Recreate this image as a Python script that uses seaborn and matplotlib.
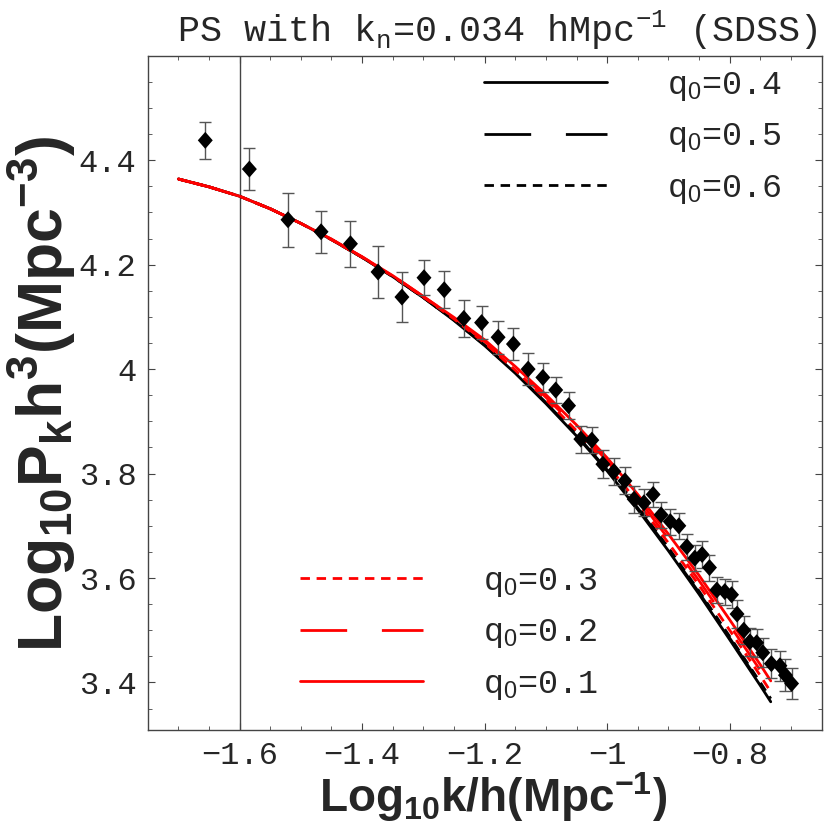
import matplotlib
matplotlib.use("Agg")
import matplotlib.pyplot as plt
from matplotlib.lines import Line2D
import seaborn as sns

# SDSS band powers
k_obs = [-1.656, -1.584, -1.521, -1.467, -1.419, -1.374, -1.335, -1.299, -1.266, -1.234,
         -1.205, -1.178, -1.153, -1.129, -1.105, -1.084, -1.063, -1.043, -1.025, -1.007,
         -0.989, -0.971, -0.956, -0.940, -0.925, -0.912, -0.897, -0.883, -0.870, -0.857,
         -0.845, -0.833, -0.821, -0.808, -0.797, -0.788, -0.777, -0.767, -0.756, -0.746,
         -0.732, -0.718, -0.709, -0.699]
p_obs = [4.438, 4.383, 4.286, 4.263, 4.240, 4.186, 4.138, 4.175, 4.152, 4.097,
         4.089, 4.061, 4.048, 4.000, 3.984, 3.960, 3.930, 3.866, 3.864, 3.818,
         3.804, 3.786, 3.751, 3.744, 3.760, 3.721, 3.708, 3.700, 3.660, 3.638,
         3.645, 3.620, 3.577, 3.574, 3.568, 3.531, 3.500, 3.478, 3.476, 3.457,
         3.436, 3.432, 3.414, 3.398]
p_err = [0.036, 0.041, 0.052, 0.040, 0.044, 0.050, 0.047, 0.034, 0.035, 0.035,
         0.031, 0.032, 0.030, 0.030, 0.028, 0.025, 0.026, 0.026, 0.025, 0.027,
         0.026, 0.026, 0.026, 0.026, 0.024, 0.025, 0.025, 0.025, 0.025, 0.025,
         0.025, 0.025, 0.025, 0.025, 0.026, 0.026, 0.027, 0.027, 0.027, 0.028,
         0.028, 0.029, 0.030, 0.030]

# model spectra for each q0
k_mod = [-1.70, -1.65, -1.60, -1.55, -1.50, -1.45, -1.40, -1.35, -1.30, -1.25, -1.20,
         -1.15, -1.10, -1.05, -1.00, -0.95, -0.90, -0.85, -0.80, -0.75, -0.733]
p_q04 = [4.364, 4.349, 4.331, 4.307, 4.279, 4.248, 4.214, 4.177, 4.137, 4.093, 4.045,
         3.992, 3.934, 3.872, 3.805, 3.731, 3.652, 3.569, 3.482, 3.394, 3.363]
p_q05 = [4.364, 4.349, 4.331, 4.307, 4.279, 4.248, 4.214, 4.177, 4.137, 4.093, 4.046,
         3.993, 3.936, 3.874, 3.807, 3.734, 3.655, 3.572, 3.485, 3.397, 3.366]
p_q06 = [4.364, 4.349, 4.331, 4.307, 4.279, 4.248, 4.214, 4.177, 4.137, 4.094, 4.047,
         3.995, 3.938, 3.877, 3.810, 3.737, 3.658, 3.575, 3.488, 3.400, 3.369]
p_q03 = [4.364, 4.349, 4.331, 4.307, 4.279, 4.248, 4.214, 4.178, 4.138, 4.096, 4.050,
         3.998, 3.942, 3.882, 3.817, 3.745, 3.667, 3.586, 3.500, 3.413, 3.382]
p_q02 = [4.364, 4.349, 4.331, 4.307, 4.279, 4.248, 4.215, 4.179, 4.139, 4.098, 4.053,
         4.001, 3.946, 3.888, 3.824, 3.753, 3.675, 3.595, 3.510, 3.423, 3.392]
p_q01 = [4.364, 4.349, 4.331, 4.307, 4.279, 4.249, 4.215, 4.179, 4.139, 4.099, 4.056,
         4.005, 3.951, 3.893, 3.830, 3.760, 3.684, 3.605, 3.520, 3.434, 3.403]

q_labels = ["0.4", "0.5", "0.6", "0.3", "0.2", "0.1"]
q_curves = [p_q04, p_q05, p_q06, p_q03, p_q02, p_q01]
q_colors = ["black", "black", "black", "red", "red", "red"]
q_styles = ["-", (0, (16.8, 12.5)), (0, (3.4, 2.4)), (0, (3.4, 2.4)), (0, (16.8, 12.5)), "-"]

xticks = [-1.6, -1.4, -1.2, -1.0, -0.8]
xtick_labels = ["\u22121.6", "\u22121.4", "\u22121.2", "\u22121", "\u22120.8"]
yticks = [3.4, 3.6, 3.8, 4.0, 4.2, 4.4]
ytick_labels = ["3.4", "3.6", "3.8", "4", "4.2", "4.4"]

sns.set_theme(style="ticks")
plt.rcParams["mathtext.fontset"] = "custom"
plt.rcParams["mathtext.rm"] = "Liberation Sans"
plt.rcParams["mathtext.tt"] = "Liberation Mono"
plt.rcParams["mathtext.bf"] = "Liberation Sans:bold"

fig = plt.figure(figsize=(8.32, 8.32), dpi=100)
ax = fig.add_axes([0.1775, 0.1226, 0.81, 0.8104])

ax.axvline(-1.6, color="#444444", lw=1.0)

for p, c, ls in zip(q_curves, q_colors, q_styles):
    sns.lineplot(x=k_mod, y=p, ax=ax, color=c, lw=2.0, linestyle=ls,
                 sort=False, estimator=None)

ax.errorbar(k_obs, p_obs, yerr=p_err, fmt="none", ecolor="#555555",
            elinewidth=1.0, capsize=4.5, capthick=1.0, zorder=3)
diamond = [(0, -1), (0.88, 0), (0, 1), (-0.88, 0)]
sns.scatterplot(x=k_obs, y=p_obs, ax=ax, marker=diamond, s=150, color="black",
                edgecolor="none", zorder=4)

ax.set_xlim(-1.75, -0.65)
ax.set_ylim(3.309, 4.60)
ax.set_xticks(xticks, xtick_labels)
ax.set_yticks(yticks, ytick_labels)
ax.set_xticks([-1.75 + 0.05 * i for i in range(23)], minor=True)
ax.set_yticks([3.35 + 0.05 * i for i in range(26)], minor=True)
ax.tick_params(which="both", direction="in", top=True, right=True, color="#444444")
ax.tick_params(which="major", length=5, width=0.8, labelsize=23, pad=8)
ax.tick_params(which="minor", length=3, width=0.6)
for lab in ax.get_xticklabels() + ax.get_yticklabels():
    lab.set_fontfamily("Liberation Mono")
for s in ax.spines.values():
    s.set_color("#444444")
    s.set_linewidth(1.0)

ax.set_xlabel(r"Log$\mathbf{_{10}}$k/h(Mpc$\mathbf{^{-1}}$)", fontsize=33,
              fontweight="bold", fontfamily="Liberation Sans", va="center")
ax.set_ylabel(r"Log$\mathbf{_{10}}$P$\mathbf{_k}$h$\mathbf{^3}$(Mpc$\mathbf{^{-3}}$)",
              fontsize=45, fontweight="bold", fontfamily="Liberation Sans", va="center")
ax.xaxis.set_label_coords((493 - 147.7) / 674, -(797 - 730) / 674.3)
ax.yaxis.set_label_coords(-(147.7 - 42) / 674, 1 - (394 - 55.7) / 674.3)

fig.text(497 / 832, 1 - 30 / 832, r"PS with k$_\mathtt{n}$=0.034 hMpc$^\mathtt{-1}$ (SDSS)",
         fontsize=26.5, fontfamily="Liberation Mono", ha="center", va="center")

handles = []
for c, ls in zip(q_colors, q_styles):
    handles.append(Line2D([], [], color=c, lw=2.0, linestyle=ls))
labels = [r"q$_\mathrm{0}$=" + q for q in q_labels]
leg_font = {"family": "Liberation Mono", "size": 24}
leg1 = ax.legend(handles[:3], labels[:3], loc="upper left", bbox_to_anchor=(0.499, 0.979),
                 frameon=False, prop=leg_font, handlelength=3.7, handletextpad=1.8,
                 labelspacing=0.55, borderpad=0, borderaxespad=0)
ax.add_artist(leg1)
ax.legend(handles[3:], labels[3:], loc="lower left", bbox_to_anchor=(0.226, 0.042),
          frameon=False, prop=leg_font, handlelength=3.7, handletextpad=1.8,
          labelspacing=0.55, borderpad=0, borderaxespad=0)

fig.savefig("out.png", dpi=100)
